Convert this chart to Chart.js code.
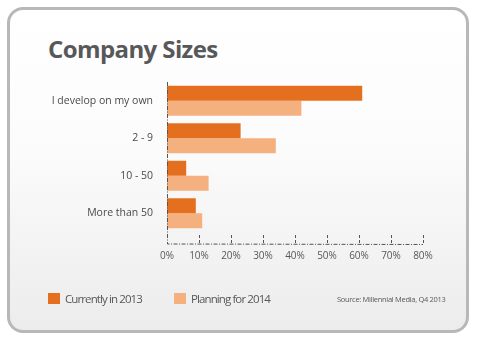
<!DOCTYPE html>
<html>
<head>
<meta charset="utf-8">
<script src="https://cdn.jsdelivr.net/npm/chart.js@4"></script>
<style>
  html, body { margin: 0; padding: 0; background: #fff; }
  body { width: 478px; height: 347px; position: relative; overflow: hidden; font-family: "Open Sans", sans-serif; }
  .card {
    position: absolute; left: 7px; top: 7px; width: 456px; height: 320px;
    border: 3px solid #b8b8b8; border-radius: 16px;
    background: linear-gradient(#ffffff 0%, #fbfbfb 45%, #ececec 100%);
  }
  .title {
    position: absolute; left: 48px; top: 32px; font-size: 24px; font-weight: bold;
    color: #58585a; letter-spacing: -0.6px; font-family: "Open Sans", sans-serif;
  }
  .legend { position: absolute; top: 291px; font-size: 11.5px; color: #58585a; letter-spacing: -0.9px; }
  .legend span.box { display: inline-block; width: 12px; height: 11px; vertical-align: -1px; margin-right: 5px; }
  .source { position: absolute; left: 337px; top: 294px; font-size: 7.5px; color: #58585a; letter-spacing: -0.3px; }
  #chart { position: absolute; left: 0; top: 0; }
</style>
</head>
<body>
<div class="card"></div>
<div class="title">Company Sizes</div>
<canvas id="chart" width="478" height="347"></canvas>
<div class="legend" style="left:48px"><span class="box" style="background:#e4701f"></span>Currently in 2013</div>
<div class="legend" style="left:174px"><span class="box" style="background:#f4b07f"></span>Planning for 2014</div>
<div class="source">Source: Millennial Media, Q4 2013</div>
<script>
const categories = ['I develop on my own', '2 - 9', '10 - 50', 'More than 50'];
const current2013 = [61, 23, 6, 9];
const planning2014 = [42, 34, 13, 11];
const xTicks = [0, 10, 20, 30, 40, 50, 60, 70, 80];

const AXIS_COLOR = '#555555';
const AXIS_Y = 244;

// dash-dot axes with little tick marks above the x axis
const axisPlugin = {
    id: 'axisPlugin',
    afterDatasetsDraw(chart) {
        const ctx = chart.ctx;
        const x = chart.scales.x;
        const area = chart.chartArea;
        const x0 = x.getPixelForValue(0);
        const x80 = x.getPixelForValue(80);
        ctx.save();
        ctx.strokeStyle = AXIS_COLOR;
        ctx.lineWidth = 1;
        ctx.setLineDash([4, 1.5, 1, 1.5]);
        ctx.beginPath();
        ctx.moveTo(Math.round(x0) + 0.5, area.top);
        ctx.lineTo(Math.round(x0) + 0.5, AXIS_Y);
        ctx.lineTo(x80, AXIS_Y + 0.5);
        ctx.stroke();
        ctx.setLineDash([3, 2]);
        xTicks.slice(1).forEach(v => {
            const px = Math.round(x.getPixelForValue(v)) + 0.5;
            ctx.beginPath();
            ctx.moveTo(px, AXIS_Y - 9);
            ctx.lineTo(px, AXIS_Y);
            ctx.stroke();
        });
        ctx.restore();
    }
};

new Chart(document.getElementById('chart'), {
    type: 'bar',
    data: {
        labels: categories,
        datasets: [{
            label: 'Currently in 2013',
            data: current2013,
            backgroundColor: '#e4701f',
            categoryPercentage: 0.8,
            barPercentage: 1.0
        }, {
            label: 'Planning for 2014',
            data: planning2014,
            backgroundColor: '#f4b07f',
            categoryPercentage: 0.8,
            barPercentage: 1.0
        }]
    },
    options: {
        indexAxis: 'y',
        responsive: false,
        animation: false,
        events: [],
        layout: { padding: { left: 0, right: 55, top: 82, bottom: 73 } },
        plugins: {
            legend: { display: false },
            tooltip: { enabled: false }
        },
        scales: {
            x: {
                min: 0,
                max: 80,
                afterBuildTicks: scale => { scale.ticks = xTicks.map(v => ({ value: v })); },
                afterFit: scale => { scale.height = 42; },
                grid: { display: false, drawTicks: false },
                border: { display: false },
                ticks: {
                    padding: 18,
                    color: '#58585a',
                    font: { family: 'Open Sans', size: 10 },
                    callback: v => v + '%'
                }
            },
            y: {
                afterFit: scale => { scale.width = 167; },
                grid: { display: false, drawTicks: false },
                border: { display: false },
                ticks: {
                    padding: 14,
                    color: '#4a4a4c',
                    font: { family: 'Open Sans', size: 10.5 }
                }
            }
        }
    },
    plugins: [axisPlugin]
});
</script>
</body>
</html>
